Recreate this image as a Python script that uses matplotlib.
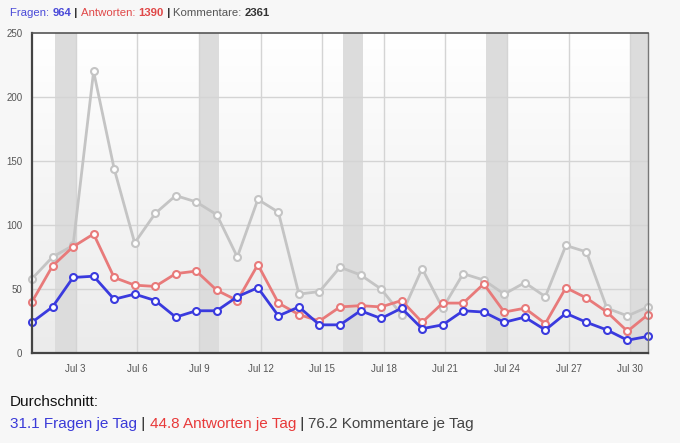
import numpy as np
import matplotlib
matplotlib.use("Agg")
import matplotlib.pyplot as plt
from matplotlib.colors import LinearSegmentedColormap

days = list(range(1, 32))
fragen = [24, 36, 59, 60, 42, 46, 41, 28, 33, 33, 44, 51, 29, 36, 22, 22, 33, 27, 35, 19, 22,
          33, 32, 24, 28, 18, 31, 24, 18, 10, 13]
antworten = [40, 68, 83, 93, 59, 53, 52, 62, 64, 49, 41, 69, 39, 30, 25, 36, 37, 36, 41, 24, 39,
             39, 54, 32, 35, 23, 51, 43, 32, 17, 30]
kommentare = [58, 75, 84, 220, 144, 86, 109, 123, 118, 108, 75, 120, 110, 46, 48, 67, 61, 50, 30,
              66, 35, 62, 57, 46, 55, 44, 84, 79, 35, 29, 36]
tick_days = [3, 6, 9, 12, 15, 18, 21, 24, 27, 30]
tick_labels = ["Jul 3", "Jul 6", "Jul 9", "Jul 12", "Jul 15", "Jul 18", "Jul 21", "Jul 24",
               "Jul 27", "Jul 30"]
weekend_days = [2, 9, 16, 23, 30]
y_ticks = [0, 50, 100, 150, 200, 250]

totals = [("Fragen", 964), ("Antworten", 1390), ("Kommentare", 2361)]
averages = [31.1, 44.8, 76.2]

BLUE = "#3a3ade"
RED = "#e87a7a"
GRAY = "#c4c4c4"
shift = 0.13

plt.rcParams['font.family'] = ['Liberation Sans', 'DejaVu Sans']

fig = plt.figure(figsize=(6.8, 4.43), dpi=100)
fig.patch.set_facecolor("#f7f7f7")
ax = fig.add_axes([32 / 680, 1 - 353 / 443, 616 / 680, 320 / 443])

ax.set_xlim(1, 31)
ax.set_ylim(0, 250)

# gradient background (white at top, light gray at bottom)
cmap = LinearSegmentedColormap.from_list("bg", ["#ffffff", "#ebebeb"])
grad = np.linspace(1, 0, 256).reshape(-1, 1)
ax.imshow(grad, extent=(1, 31, 0, 250), aspect="auto", cmap=cmap, zorder=0,
          origin="lower", vmin=0, vmax=1)
ax.set_xlim(1, 31)
ax.set_ylim(0, 250)

for d in weekend_days:
    ax.axvspan(d + shift, d + 1 + shift, color="#dcdcdc", zorder=1, lw=0)

for yv in y_ticks[1:-1]:
    ax.axhline(yv, color="#d4d4d4", lw=1, zorder=1.5)
for d in tick_days:
    ax.axvline(d + shift, color="#d4d4d4", lw=1, zorder=1.5)

mk = dict(marker="o", markersize=5, markerfacecolor="white", markeredgewidth=1.5, lw=2)
ax.plot(days, kommentare, color=GRAY, zorder=3, markeredgecolor=GRAY, clip_on=False, **mk)
ax.plot(days, antworten, color=RED, zorder=4, markeredgecolor=RED, clip_on=False, **mk)
ax.plot(days, fragen, color=BLUE, zorder=5, markeredgecolor=BLUE, clip_on=False, **mk)

ax.set_yticks(y_ticks)
ax.set_yticklabels([str(v) for v in y_ticks])
ax.set_xticks([d + shift for d in tick_days])
ax.set_xticklabels(tick_labels)
ax.tick_params(axis="both", length=0, labelsize=7, colors="#555555")
ax.tick_params(axis="y", pad=7)
ax.tick_params(axis="x", pad=8)

for s in ["left", "bottom"]:
    ax.spines[s].set_color("#444444")
    ax.spines[s].set_linewidth(1.6)
ax.spines["top"].set_color("#555555")
ax.spines["top"].set_linewidth(1.2)
ax.spines["right"].set_color("#777777")
ax.spines["right"].set_linewidth(1.0)
for s in ax.spines.values():
    s.set_zorder(6)

renderer = fig.canvas.get_renderer()


def write_row(pieces, x_px, y_px, size):
    x = x_px / 680
    y = 1 - y_px / 443
    for txt, col, wt in pieces:
        t = fig.text(x, y, txt, color=col, fontsize=size, fontweight=wt, va="baseline", ha="left")
        bb = t.get_window_extent(renderer=renderer)
        x += bb.width / 680


hdr_blue = "#4a4ad8"
hdr_red = "#e04848"
hdr_gray = "#555555"
write_row([
    (f"{totals[0][0]}: ", hdr_blue, "normal"), (f"{totals[0][1]}", hdr_blue, "bold"),
    (" | ", "#333333", "bold"),
    (f"{totals[1][0]}: ", hdr_red, "normal"), (f"{totals[1][1]}", hdr_red, "bold"),
    (" | ", "#333333", "bold"),
    (f"{totals[2][0]}: ", hdr_gray, "normal"), (f"{totals[2][1]}", "#333333", "bold"),
], 10, 16, 8.2)

fig.text(10 / 680, 1 - 406 / 443, "Durchschnitt:", color="#111111", fontsize=11, va="baseline")
write_row([
    (f"{averages[0]} Fragen je Tag", "#3a3ad8", "normal"),
    (" | ", "#222222", "normal"),
    (f"{averages[1]} Antworten je Tag", "#e83a3a", "normal"),
    (" | ", "#222222", "normal"),
    (f"{averages[2]} Kommentare je Tag", "#444444", "normal"),
], 10, 428, 11)

fig.savefig("out.png", dpi=100, facecolor=fig.get_facecolor())
